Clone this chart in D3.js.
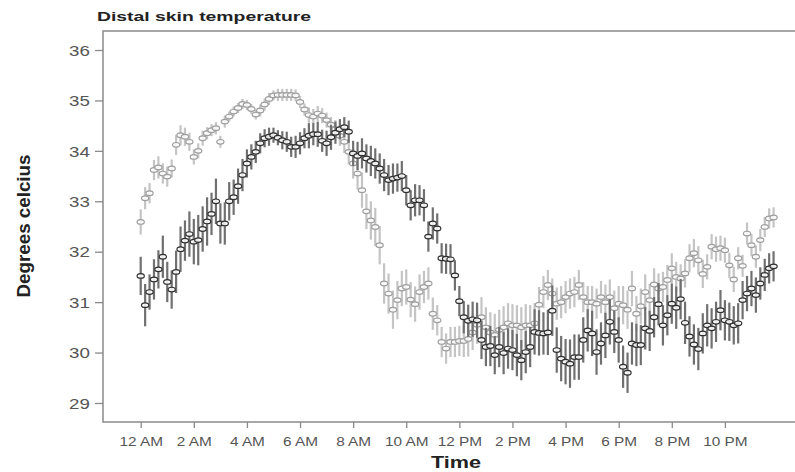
<!DOCTYPE html>
<html>
<head>
<meta charset="utf-8">
<script src="https://cdn.jsdelivr.net/npm/d3@7/dist/d3.min.js"></script>
<style>
  html, body { margin: 0; padding: 0; background: #fff; }
  svg { display: block; }
</style>
</head>
<body>
<svg id="chart" width="795" height="472"></svg>
<script>
// ---- Data (10-minute samples starting at 12 AM) ----
const darkMean = [
  31.52, 30.94, 31.2, 31.45, 31.65, 31.9, 31.4, 31.25, 31.6, 32.05,
  32.22, 32.35, 32.2, 32.23, 32.45, 32.6, 32.75, 33.0, 32.56, 32.56,
  33.0, 33.08, 33.3, 33.52, 33.75, 33.88, 33.98, 34.15, 34.25, 34.28,
  34.31, 34.26, 34.21, 34.18, 34.08, 34.08, 34.15, 34.25, 34.3, 34.33,
  34.33, 34.2, 34.15, 34.27, 34.36, 34.43, 34.47, 34.38, 33.95, 33.9,
  33.95, 33.85, 33.8, 33.75, 33.65, 33.52, 33.42, 33.45, 33.47, 33.5,
  33.22, 32.92, 33.02, 33.02, 32.92, 32.3, 32.56, 32.46, 31.87, 31.86,
  31.85, 31.53, 31.02, 30.7, 30.63, 30.66, 30.64, 30.25, 30.11, 30.13,
  29.95, 30.11, 29.99, 30.08, 30.05, 29.95, 29.85, 30.01, 30.11, 30.41,
  30.39, 30.38, 30.4, 30.83, 30.05, 29.88, 29.82, 29.78, 29.91, 29.91,
  30.25, 30.44, 30.38, 30.01, 30.18, 30.34, 30.61, 30.41, 30.25, 29.72,
  29.6, 30.18, 30.15, 30.15, 30.48, 30.43, 30.7, 30.96, 30.54, 30.74,
  30.97, 30.89, 31.06, 30.59, 30.32, 30.16, 30.07, 30.38, 30.54, 30.48,
  30.61, 30.84, 30.64, 30.61, 30.54, 30.58, 31.04, 31.17, 31.27, 31.14,
  31.37, 31.54, 31.67, 31.71
];
const darkErr = [
  0.38, 0.42, 0.35, 0.4, 0.38, 0.42,
  0.4, 0.38, 0.42, 0.45, 0.4, 0.45,
  0.45, 0.5, 0.45, 0.48, 0.42, 0.45,
  0.4, 0.42, 0.38, 0.35, 0.35, 0.32,
  0.28, 0.25, 0.22, 0.2, 0.18, 0.18,
  0.15, 0.15, 0.18, 0.2, 0.2, 0.22,
  0.22, 0.2, 0.25, 0.22, 0.25, 0.22,
  0.25, 0.25, 0.22, 0.2, 0.2, 0.22,
  0.25, 0.28, 0.3, 0.28, 0.3, 0.3,
  0.3, 0.32, 0.3, 0.3, 0.28, 0.3,
  0.3, 0.3, 0.32, 0.3, 0.32, 0.3,
  0.32, 0.3, 0.3, 0.3, 0.3, 0.3,
  0.3, 0.32, 0.32, 0.35, 0.35, 0.38,
  0.38, 0.4, 0.38, 0.4, 0.42, 0.4,
  0.4, 0.42, 0.4, 0.42, 0.4, 0.45,
  0.45, 0.42, 0.45, 0.5, 0.45, 0.45,
  0.45, 0.48, 0.45, 0.45, 0.45, 0.42,
  0.45, 0.45, 0.42, 0.45, 0.45, 0.42,
  0.45, 0.42, 0.4, 0.42, 0.42, 0.4,
  0.42, 0.4, 0.4, 0.42, 0.4, 0.4,
  0.4, 0.42, 0.4, 0.42, 0.4, 0.4,
  0.42, 0.4, 0.42, 0.4, 0.4, 0.4,
  0.4, 0.38, 0.38, 0.4, 0.38, 0.35,
  0.35, 0.35, 0.32, 0.32, 0.3, 0.3
];
const lightMean = [
  32.59, 33.06, 33.16, 33.62, 33.67, 33.55, 33.49, 33.65, 34.12, 34.31,
  34.28, 34.18, 33.88, 34.0, 34.25, 34.35, 34.41, 34.45, 34.18, 34.58,
  34.68, 34.78, 34.85, 34.93, 34.91, 34.83, 34.72, 34.8, 34.92, 35.03,
  35.1, 35.11, 35.11, 35.11, 35.11, 35.1, 34.97, 34.82, 34.71, 34.68,
  34.74, 34.7, 34.61, 34.52, 34.43, 34.3, 34.18, 33.98, 33.75, 33.55,
  33.22, 32.8, 32.62, 32.49, 32.13, 31.37, 31.17, 30.85, 31.04, 31.27,
  31.3, 31.05, 30.96, 31.2, 31.3, 31.37, 30.77, 30.64, 30.21, 30.08,
  30.21, 30.21, 30.23, 30.23, 30.27, 30.4, 30.55, 30.7, 30.5, 30.4,
  30.35, 30.45, 30.5, 30.58, 30.54, 30.54, 30.5, 30.54, 30.54, 30.58,
  30.95, 31.2, 31.34, 31.17, 30.97, 31.0, 31.1, 31.17, 31.2, 31.34,
  31.1, 31.0, 31.0, 30.97, 31.1, 31.0, 31.1, 30.88, 30.97, 30.94,
  30.85, 31.27, 30.77, 30.92, 31.2, 31.04, 31.35, 31.27, 31.3, 31.44,
  31.67, 31.5, 31.47, 31.57, 31.87, 31.97, 31.83, 31.56, 31.7, 32.1,
  32.05, 32.07, 32.03, 31.73, 31.45, 31.87, 31.72, 32.36, 32.13, 31.9,
  32.23, 32.49, 32.66, 32.68
];
const lightErr = [
  0.25, 0.22, 0.2, 0.2, 0.22, 0.2,
  0.2, 0.18, 0.2, 0.2, 0.18, 0.18,
  0.15, 0.15, 0.15, 0.12, 0.12, 0.12,
  0.12, 0.12, 0.1, 0.1, 0.1, 0.1,
  0.1, 0.1, 0.1, 0.12, 0.12, 0.12,
  0.1, 0.12, 0.12, 0.12, 0.12, 0.12,
  0.12, 0.12, 0.15, 0.15, 0.15, 0.15,
  0.15, 0.15, 0.18, 0.2, 0.22, 0.25,
  0.3, 0.32, 0.35, 0.35, 0.38, 0.38,
  0.38, 0.4, 0.4, 0.38, 0.38, 0.35,
  0.35, 0.35, 0.35, 0.35, 0.32, 0.32,
  0.32, 0.3, 0.3, 0.3, 0.3, 0.3,
  0.3, 0.32, 0.35, 0.35, 0.38, 0.4,
  0.4, 0.4, 0.42, 0.4, 0.42, 0.4,
  0.42, 0.4, 0.4, 0.42, 0.4, 0.4,
  0.35, 0.32, 0.3, 0.3, 0.32, 0.32,
  0.32, 0.3, 0.3, 0.3, 0.3, 0.32,
  0.32, 0.3, 0.32, 0.35, 0.35, 0.35,
  0.35, 0.38, 0.38, 0.35, 0.35, 0.35,
  0.35, 0.32, 0.32, 0.3, 0.3, 0.3,
  0.3, 0.3, 0.28, 0.28, 0.28, 0.28,
  0.28, 0.28, 0.25, 0.25, 0.25, 0.25,
  0.25, 0.25, 0.25, 0.22, 0.22, 0.22,
  0.22, 0.22, 0.22, 0.2, 0.2, 0.2
];
const sampleMinutes = 10;
const xTickHours = [0, 2, 4, 6, 8, 10, 12, 14, 16, 18, 20, 22];
const xTickLabels = ["12 AM", "2 AM", "4 AM", "6 AM", "8 AM", "10 AM", "12 PM", "2 PM", "4 PM", "6 PM", "8 PM", "10 PM"];
const yTicks = [29, 30, 31, 32, 33, 34, 35, 36];
const titleText = "Distal skin temperature";
const xTitle = "Time";
const yTitle = "Degrees celcius";

// ---- Layout ----
const plotL = 103, plotR = 795, plotT = 31, plotB = 422;
const svg = d3.select("#chart");

const x = d3.scaleLinear().domain([-1.42, 24.64]).range([plotL, plotR]);
const y = d3.scaleLinear().domain([28.623, 36.377]).range([plotB, plotT]);

function toRows(means, errs) {
  return means.map((m, i) => ({ h: i * sampleMinutes / 60, m: m, e: errs[i] }));
}
const light = toRows(lightMean, lightErr);
const dark = toRows(darkMean, darkErr);

const font = "'Liberation Sans', Arial, Helvetica, sans-serif";

// ---- Series ----
function drawSeries(rows, barColor, ringColor, cls) {
  const g = svg.append("g").attr("class", cls);
  g.selectAll("line.err").data(rows).enter().append("line")
    .attr("class", "err")
    .attr("x1", d => x(d.h)).attr("x2", d => x(d.h))
    .attr("y1", d => y(d.m - d.e)).attr("y2", d => y(d.m + d.e))
    .attr("stroke", barColor).attr("stroke-width", 2.2);
  g.selectAll("ellipse").data(rows).enter().append("ellipse")
    .attr("cx", d => x(d.h)).attr("cy", d => y(d.m))
    .attr("rx", 3.6).attr("ry", 2.3)
    .attr("fill", "#ffffff").attr("fill-opacity", 0.85)
    .attr("stroke", ringColor).attr("stroke-width", 1.2);
}
drawSeries(light, "#c4c4c4", "#9e9e9e", "light");
drawSeries(dark, "#707070", "#303030", "dark");

// ---- Axes ----
const axisColor = "#8a8a8a";
const labelColor = "#555555";

const yAxis = svg.append("g").attr("transform", `translate(${plotL},0)`)
  .call(d3.axisLeft(y).tickValues(yTicks).tickSize(8).tickFormat(d3.format("d")));
yAxis.select(".domain").remove();
yAxis.selectAll(".tick line").attr("stroke", axisColor).attr("stroke-width", 1.3);
yAxis.selectAll(".tick text")
  .attr("x", -10.5).attr("dy", "0.35em")
  .attr("transform", "scale(1.25,1)")
  .attr("fill", labelColor).style("font-family", font).style("font-size", "15px");

const xAxis = svg.append("g").attr("transform", `translate(0,${plotB})`)
  .call(d3.axisBottom(x).tickValues(xTickHours).tickSize(6)
    .tickFormat((d, i) => xTickLabels[i]));
xAxis.select(".domain").remove();
xAxis.selectAll(".tick line").attr("stroke", axisColor).attr("stroke-width", 1.3);
xAxis.selectAll(".tick text")
  .attr("y", 15).attr("dy", "0.71em")
  .attr("transform", "scale(1.28,1)")
  .attr("fill", labelColor).style("font-family", font).style("font-size", "12px");

// frame
svg.append("path")
  .attr("d", `M${plotR},${plotT}H${plotL}V${plotB}H${plotR}`)
  .attr("fill", "none").attr("stroke", axisColor).attr("stroke-width", 1.5);

// ---- Titles ----
svg.append("text")
  .attr("x", 97).attr("y", 21)
  .attr("textLength", 214).attr("lengthAdjust", "spacingAndGlyphs")
  .style("font-family", font).style("font-weight", "bold").style("font-size", "13px")
  .attr("fill", "#222").text(titleText);

svg.append("text")
  .attr("x", 456).attr("y", 468)
  .attr("text-anchor", "middle")
  .attr("textLength", 50).attr("lengthAdjust", "spacingAndGlyphs")
  .style("font-family", font).style("font-weight", "bold").style("font-size", "16px")
  .attr("fill", "#222").text(xTitle);

svg.append("text")
  .attr("transform", "translate(30,226) rotate(-90) scale(1,1.2)")
  .attr("text-anchor", "middle")
  .attr("textLength", 143).attr("lengthAdjust", "spacingAndGlyphs")
  .style("font-family", font).style("font-weight", "bold").style("font-size", "16px")
  .attr("fill", "#222").text(yTitle);
</script>
</body>
</html>
